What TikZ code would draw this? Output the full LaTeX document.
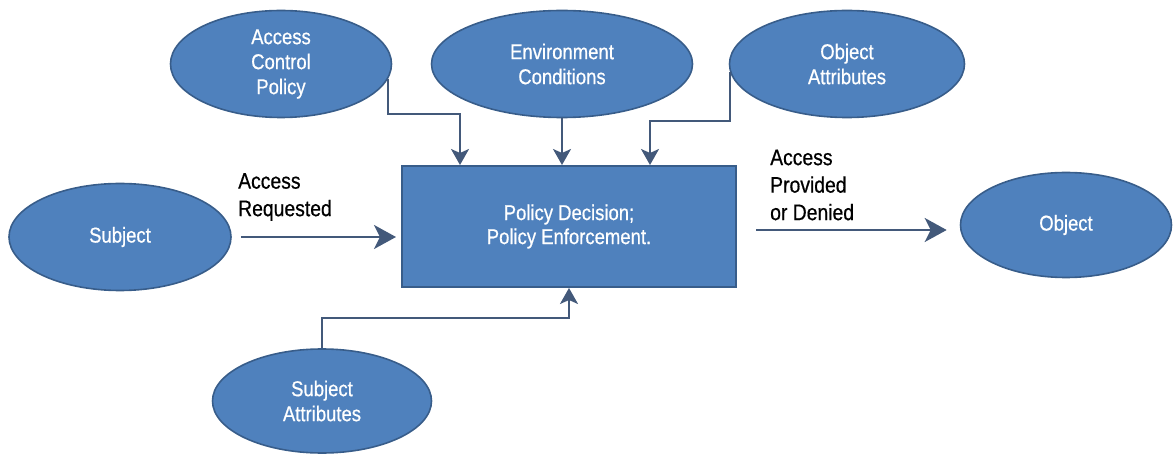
\documentclass[tikz,border=0pt]{standalone}
\usepackage{fontspec}
\setmainfont{Liberation Sans}[FakeStretch=0.86,FakeBold=0.6]
\usetikzlibrary{arrows.meta,shapes.geometric}

\definecolor{boxfill}{HTML}{4F81BD}
\definecolor{boxline}{HTML}{385D8A}
\definecolor{flowline}{HTML}{43597A}

\tikzset{
  blob/.style={ellipse, draw=boxline, fill=boxfill, line width=1.6pt,
    inner sep=0pt, text=white, align=center,
    font=\fontsize{21.5}{25}\selectfont},
  engine/.style={rectangle, draw=boxline, fill=boxfill, line width=2pt,
    inner sep=0pt, text=white, align=center,
    font=\fontsize{21.5}{24}\selectfont},
  flow/.style={draw=flowline, line width=2pt,
    -{Stealth[length=16pt,width=18pt,inset=4pt]}},
  bigflow/.style={draw=flowline, line width=2.6pt,
    -{Stealth[length=22pt,width=24pt,inset=6pt]}},
  tag/.style={inner sep=0pt, anchor=west, align=left,
    font=\fontsize{22.5}{27.5}\selectfont}
}

\begin{document}
\begin{tikzpicture}[x=1pt,y=-1pt]
\useasboundingbox (0,0) rectangle (1173,454);

% the decision box
\node[engine, minimum width=334pt, minimum height=121pt] (pdp) at (569,226.5)
  {Policy Decision;\\Policy Enforcement.};

% inputs on top
\node[blob, minimum width=221pt, minimum height=107pt] (acp) at (281,64)
  {Access\\Control\\Policy};
\node[blob, minimum width=261pt, minimum height=107pt] (env) at (562,64)
  {Environment\\Conditions};
\node[blob, minimum width=235pt, minimum height=107pt] (oatt) at (847,64)
  {Object\\Attributes};

% subject, object
\node[blob, minimum width=222pt, minimum height=107pt] (subj) at (120,237) {Subject};
\node[blob, minimum width=211pt, minimum height=105pt] (obj) at (1066,225) {Object};
\node[blob, minimum width=219pt, minimum height=104pt] (satt) at (322,401)
  {Subject\\Attributes};

% labels
\node[tag] (req) at (238,197) {Access\\Requested};
\node[tag] (resp) at (770,185) {Access\\Provided\\or Denied};

% connectors
\draw[flow] (acp.-8) -- (acp.-8 |- 0,114) -| ([xshift=-109pt]pdp.north);
\draw[flow] (env.south) -- (env.south |- pdp.north);
\draw[flow] (oatt.184) -- (oatt.184 |- 0,121) -| ([xshift=81pt]pdp.north);
\draw[flow] (satt.north) -- (satt.north |- 0,318) -| (pdp.south);

\draw[bigflow] ([xshift=9pt]subj.east) -- ([xshift=-5pt]subj.east -| pdp.west);
\draw[bigflow] ([xshift=19pt,yshift=-3.5pt]pdp.east)
  -- ([xshift=-13pt,yshift=-3.5pt]pdp.east -| obj.west);

\end{tikzpicture}
\end{document}
